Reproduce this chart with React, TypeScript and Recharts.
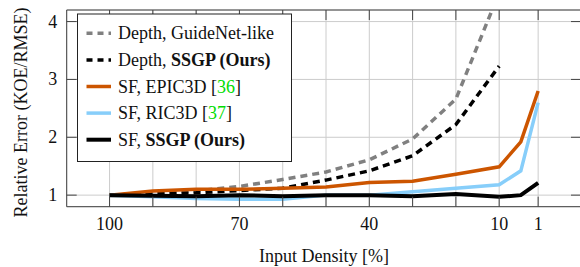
import { LineChart, Line, XAxis, YAxis, CartesianGrid } from 'recharts'

// input density [%] (x) and relative error per method
const density = [100, 90, 80, 70, 60, 50, 40, 30, 20, 10, 5, 1]
const depthGuideNet = [1.0, 1.03, 1.07, 1.15, 1.27, 1.4, 1.61, 1.97, 2.66, 4.5, null, null]
const depthSSGP = [1.0, 1.02, 1.04, 1.08, 1.12, 1.26, 1.42, 1.68, 2.22, 3.23, null, null]
const sfEPIC3D = [1.0, 1.07, 1.1, 1.1, 1.12, 1.14, 1.22, 1.24, 1.36, 1.49, 1.92, 2.8]
const sfRIC3D = [1.0, 0.97, 0.94, 0.93, 0.93, 1.0, 1.0, 1.06, 1.12, 1.18, 1.42, 2.6]
const sfSSGP = [1.0, 0.99, 0.98, 1.0, 0.98, 1.0, 1.0, 0.98, 1.02, 0.97, 1.0, 1.21]

const xTicks = [100, 90, 80, 70, 60, 50, 40, 30, 20, 10, 1]
const xLabels = [100, 70, 40, 10, 1]
const yTicks = [1, 2, 3, 4]

const data = density.map((d, i) => ({
  d,
  g: depthGuideNet[i],
  ds: depthSSGP[i],
  e: sfEPIC3D[i],
  r: sfRIC3D[i],
  s: sfSSGP[i],
}))

const FONT = '"Liberation Serif", "Times New Roman", serif'
const AXIS = '#444'
const GRID = '#cccccc'
const GREY = '#808080'
const ORANGE = '#cc5500'
const BLUE = '#87cefa'
const GREEN = '#00dd00'
const TICK = 10
const FS = 18

const W = 600
const H = 267
// plot area: left 66.7, top 10, right 581, bottom 206.7
const M = { top: 0, right: 9, bottom: 30.3, left: 16.7 }

// eslint-disable-next-line @typescript-eslint/no-explicit-any
function BottomTick({ x, y, payload }: any) {
  const v = payload.value
  return (
    <g>
      <line x1={x} y1={y} x2={x} y2={y - TICK} stroke={AXIS} />
      {xLabels.includes(v) && (
        <text x={x} y={y + 23.5} textAnchor="middle" fontSize={FS} fontFamily={FONT} fill="#111">
          {v}
        </text>
      )}
    </g>
  )
}

// eslint-disable-next-line @typescript-eslint/no-explicit-any
function TopTick({ x, y }: any) {
  return <line x1={x} y1={y} x2={x} y2={y + TICK} stroke={AXIS} />
}

// eslint-disable-next-line @typescript-eslint/no-explicit-any
function LeftTick({ x, y, payload }: any) {
  return (
    <g>
      <line x1={x} y1={y} x2={x + TICK} y2={y} stroke={AXIS} />
      <text x={x - 9.5} y={y + 6} textAnchor="end" fontSize={FS} fontFamily={FONT} fill="#111">
        {payload.value}
      </text>
    </g>
  )
}

// eslint-disable-next-line @typescript-eslint/no-explicit-any
function RightTick({ x, y }: any) {
  return <line x1={x} y1={y} x2={x - TICK} y2={y} stroke={AXIS} />
}

function XTitle() {
  return (
    <text x={324} y={262} textAnchor="middle" fontSize={FS} fontFamily={FONT} fill="#111">
      Input Density [%]
    </text>
  )
}

function YTitle() {
  return (
    <text
      transform="translate(26.5,112.5) rotate(-90)"
      textAnchor="middle"
      fontSize={FS}
      fontFamily={FONT}
      fill="#111"
    >
      Relative Error (KOE/RMSE)
    </text>
  )
}

const legendItems = [
  { color: GREY, dash: '6 5', w: 3.5, parts: [['Depth, GuideNet-like', '']] },
  { color: '#000', dash: '6 5', w: 3.5, parts: [['Depth, ', ''], ['SSGP (Ours)', 'b']] },
  { color: ORANGE, dash: undefined, w: 3.5, parts: [['SF, EPIC3D [', ''], ['36', 'g'], [']', '']] },
  { color: BLUE, dash: undefined, w: 3.5, parts: [['SF, RIC3D [', ''], ['37', 'g'], [']', '']] },
  { color: '#000', dash: undefined, w: 4, parts: [['SF, ', ''], ['SSGP (Ours)', 'b']] },
]

function LegendBox() {
  const x0 = 77.5
  const y0 = 14
  return (
    <svg width={580} height={267} style={{ position: 'absolute', left: 0, top: 0, pointerEvents: 'none' }}>
      <rect x={x0} y={y0} width={214} height={147.5} fill="#fff" stroke="#222" strokeWidth={1} />
      {legendItems.map((it, i) => {
        const cy = 33.3 + i * 26.6
        return (
          <g key={i}>
            <line
              x1={86.5}
              x2={111}
              y1={cy}
              y2={cy}
              stroke={it.color}
              strokeWidth={it.w}
              strokeDasharray={it.dash}
            />
            <text x={118} y={cy + 6} fontSize={FS} fontFamily={FONT} fill="#111">
              {it.parts.map(([t, k], j) => (
                <tspan
                  key={j}
                  fontWeight={k === 'b' ? 'bold' : 'normal'}
                  fill={k === 'g' ? GREEN : '#111'}
                >
                  {t}
                </tspan>
              ))}
            </text>
          </g>
        )
      })}
    </svg>
  )
}

export default function App() {
  return (
    <div style={{ position: 'absolute', left: 0, top: 0, width: 580, height: 267, overflow: 'hidden', background: '#fff' }}>
      <LineChart width={W} height={H} data={data} margin={M}>
        <CartesianGrid stroke={GRID} strokeWidth={1} />
        <XAxis
          dataKey="d"
          type="number"
          domain={[-8.9, 109.9]}
          reversed
          ticks={xTicks}
          interval={0}
          height={30}
          tickSize={0}
          tickMargin={0}
          tick={<BottomTick />}
          stroke={AXIS}
          allowDataOverflow
          label={<XTitle />}
        />
        <XAxis
          xAxisId="top"
          dataKey="d"
          type="number"
          orientation="top"
          domain={[-8.9, 109.9]}
          reversed
          ticks={xTicks}
          interval={0}
          height={10}
          tickSize={0}
          tickMargin={0}
          tick={<TopTick />}
          stroke={AXIS}
          allowDataOverflow
        />
        <YAxis
          type="number"
          domain={[0.8, 4.2]}
          ticks={yTicks}
          interval={0}
          width={50}
          tickSize={0}
          tickMargin={0}
          tick={<LeftTick />}
          stroke={AXIS}
          allowDataOverflow
          label={<YTitle />}
        />
        <YAxis
          yAxisId="right"
          orientation="right"
          type="number"
          domain={[0.8, 4.2]}
          ticks={yTicks}
          interval={0}
          width={10}
          tickSize={0}
          tickMargin={0}
          tick={<RightTick />}
          stroke={AXIS}
          allowDataOverflow
        />
        <Line dataKey="g" stroke={GREY} strokeWidth={3.5} strokeDasharray="7 5" dot={false} isAnimationActive={false} />
        <Line dataKey="ds" stroke="#000" strokeWidth={3.5} strokeDasharray="7 5" dot={false} isAnimationActive={false} />
        <Line dataKey="e" stroke={ORANGE} strokeWidth={3.5} dot={false} isAnimationActive={false} />
        <Line dataKey="r" stroke={BLUE} strokeWidth={3.5} dot={false} isAnimationActive={false} />
        <Line dataKey="s" stroke="#000" strokeWidth={4} dot={false} isAnimationActive={false} />
      </LineChart>
      <LegendBox />
    </div>
  )
}
